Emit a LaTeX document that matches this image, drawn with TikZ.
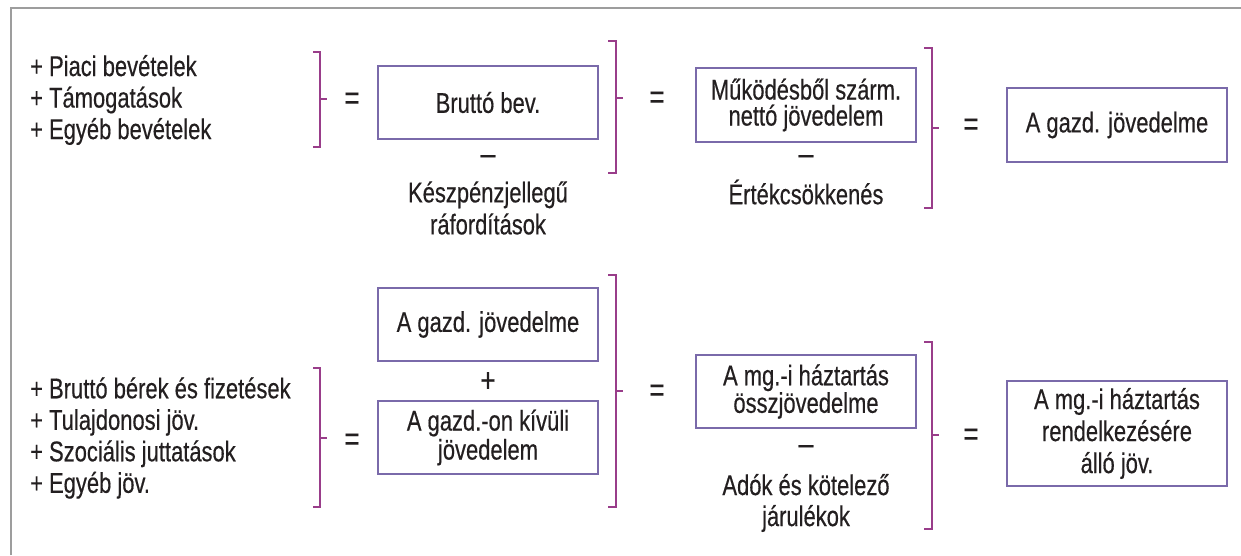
\documentclass[tikz,border=0pt]{standalone}
\usepackage{fontspec}
\setmainfont{Liberation Sans}[FakeStretch=0.77,FakeBold=0.4]
\definecolor{txt}{HTML}{231F20}
\definecolor{brkc}{HTML}{993D8A}
\definecolor{boxc}{HTML}{7A6AAA}
\definecolor{framec}{HTML}{9D9D9D}
\begin{document}
\begin{tikzpicture}[x=1pt,y=-1pt,
  every node/.style={text=txt,font=\fontsize{28.5}{30}\selectfont,inner sep=0pt},
  lbl/.style={align=center},
  lst/.style={align=left,anchor=west,font=\fontsize{28.5}{31.5}\selectfont},
  box/.style={draw=boxc,line width=1.4pt,minimum width=220pt,align=center},
  brk/.style={draw=brkc,line width=2pt},
  eq/.style={font=\fontsize{34}{34}\selectfont},
  op/.style={font=\fontsize{34}{34}\selectfont}]
\useasboundingbox (0,0) rectangle (1241,555);
\fill[white] (0,0) rectangle (1241,555);
\draw[framec,line width=2pt] (11,555) -- (11,8) -- (1241,8);

% ---------- top row ----------
\node[lst] (l1) at (30,100) {+ Piaci bevételek\\+ Támogatások\\+ Egyéb bevételek};
\draw[brk] (313,52) -- (320,52) -- (320,147) -- (313,147);
\draw[brk] (320,99) -- (327,99);
\node[eq] (e1) at (352,101) {=};
\node[box,minimum height=73pt] (b1) at (488,102.5) {Bruttó bev.};
\node[op] (m1) at (488,160) {–};
\node[lbl,font=\fontsize{28.5}{32}\selectfont] (k1) at (488,208) {Készpénzjellegű\\ráfordítások};
\draw[brk] (608,41) -- (616,41) -- (616,173) -- (608,173);
\draw[brk] (616,98) -- (623,98);
\node[eq] (e2) at (657,100) {=};
\node[box,minimum height=74pt,font=\fontsize{28.5}{27}\selectfont] (b2) at (806,105) {Működésből szárm.\\[-1pt]nettó jövedelem};
\node[op] (m2) at (806,160) {–};
\node (k2) at (806,192) {Értékcsökkenés};
\draw[brk] (924,48) -- (932,48) -- (932,208) -- (924,208);
\draw[brk] (932,128) -- (939,128);
\node[eq] (e3) at (971,127) {=};
\node[box,minimum height=74pt] (b3) at (1117,125) {A gazd. jövedelme};

% ---------- bottom row ----------
\node[lst] (l2) at (30,438) {+ Bruttó bérek és fizetések\\+ Tulajdonosi jöv.\\+ Szociális juttatások\\+ Egyéb jöv.};
\draw[brk] (313,368) -- (320,368) -- (320,507) -- (313,507);
\draw[brk] (320,438) -- (327,438);
\node[eq] (e4) at (352,442) {=};
\node[box,minimum height=73pt] (b4) at (488,324.5) {A gazd. jövedelme};
\node[op] (p1) at (488,382) {+};
\node[box,minimum height=73pt,font=\fontsize{28.5}{29}\selectfont] (b5) at (488,437.5) {A gazd.-on kívüli\\jövedelem};
\draw[brk] (608,275) -- (616,275) -- (616,507) -- (608,507);
\draw[brk] (616,391) -- (623,391);
\node[eq] (e5) at (657,393) {=};
\node[box,minimum height=73pt,font=\fontsize{28.5}{26}\selectfont] (b6) at (806,391.5) {A mg.-i háztartás\\összjövedelme};
\node[op] (m3) at (806,450) {–};
\node[lbl,font=\fontsize{28.5}{31}\selectfont] (k3) at (806,503) {Adók és kötelező\\járulékok};
\draw[brk] (924,342) -- (932,342) -- (932,529) -- (924,529);
\draw[brk] (932,435) -- (939,435);
\node[eq] (e6) at (971,437) {=};
\node[box,minimum height=105pt,font=\fontsize{28.5}{32}\selectfont] (b7) at (1117,433.5) {A mg.-i háztartás\\rendelkezésére\\álló jöv.};
\end{tikzpicture}
\end{document}
